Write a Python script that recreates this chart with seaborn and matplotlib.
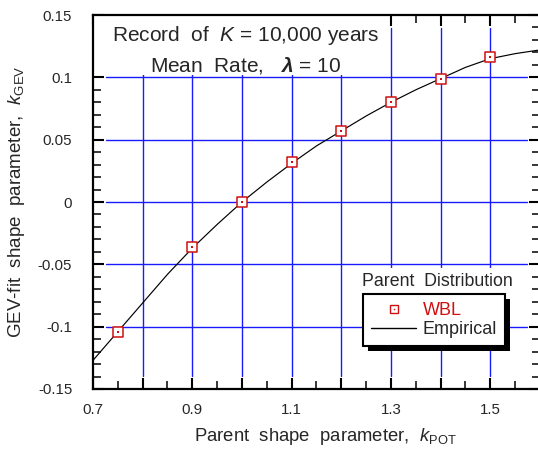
import numpy as np
import pandas as pd
import matplotlib
matplotlib.use("Agg")
import matplotlib.pyplot as plt
import seaborn as sns
from matplotlib.lines import Line2D
from matplotlib.patches import Rectangle
from matplotlib.transforms import IdentityTransform

# ---- data ----
wbl_k_pot = [0.75, 0.9, 1.0, 1.1, 1.2, 1.3, 1.4, 1.5]
wbl_k_gev = [-0.104, -0.036, 0.0, 0.032, 0.057, 0.080, 0.099, 0.116]

emp_k_pot = [0.70, 0.75, 0.80, 0.85, 0.90, 0.95, 1.00, 1.05, 1.10, 1.15,
             1.20, 1.25, 1.30, 1.35, 1.40, 1.45, 1.50, 1.55, 1.60]
emp_k_gev = [-0.127, -0.104, -0.081, -0.058, -0.037, -0.018, 0.000, 0.016,
             0.031, 0.045, 0.057, 0.069, 0.080, 0.090, 0.099, 0.108, 0.115,
             0.119, 0.122]

xtick_vals = [0.7, 0.8, 0.9, 1.0, 1.1, 1.2, 1.3, 1.4, 1.5, 1.6]
xtick_labels = ["0.7", "", "0.9", "", "1.1", "", "1.3", "", "1.5", ""]
ytick_vals = [-0.15, -0.1, -0.05, 0.0, 0.05, 0.1, 0.15]
ytick_labels = ["-0.15", "-0.1", "-0.05", "0", "0.05", "0.1", "0.15"]

wbl_df = pd.DataFrame({"k_pot": wbl_k_pot, "k_gev": wbl_k_gev})
emp_df = pd.DataFrame({"k_pot": emp_k_pot, "k_gev": emp_k_gev})

sns.set_theme(style="white")
plt.rcParams["font.family"] = ["Liberation Sans", "DejaVu Sans"]
plt.rcParams.update({
    "mathtext.fontset": "custom",
    "mathtext.rm": "Liberation Sans",
    "mathtext.it": "Liberation Sans:italic",
    "mathtext.bf": "Liberation Sans:bold",
    "mathtext.bfit": "Liberation Sans:bold:italic",
})

W, H = 538, 455
fig = plt.figure(figsize=(W / 100, H / 100), dpi=100)
L, R, T, B = 93, 540, 15, 389
ax = fig.add_axes([L / W, 1 - B / H, (R - L) / W, (B - T) / H])

xmin, xmax, ymin, ymax = 0.7, 1.6, -0.15, 0.15
ax.set_xlim(xmin, xmax)
ax.set_ylim(ymin, ymax)

# grid (inset from spines)
grid_c = "#1a1aff"
gx = 0.027
gy = 0.0105
for xv in xtick_vals[1:-1]:
    ax.plot([xv, xv], [ymin + gy, ymax - gy], color=grid_c, lw=1.0, zorder=1)
for yv in ytick_vals[1:-1]:
    ax.plot([xmin + gx, xmax - gx], [yv, yv], color=grid_c, lw=1.0, zorder=1)

# white area behind the annotation text
ax.add_patch(Rectangle((xmin, 0.1015), 1.288 - xmin, ymax - 0.1015,
                       facecolor="white", edgecolor="none", zorder=1.2))

sns.lineplot(data=emp_df, x="k_pot", y="k_gev", color="black", lw=0.85,
             estimator=None, sort=False, ax=ax, zorder=2)
sns.scatterplot(data=wbl_df, x="k_pot", y="k_gev", marker="s", s=42,
                facecolor="white", edgecolor="#d01010", linewidth=1.1,
                ax=ax, zorder=3)
sns.scatterplot(data=wbl_df, x="k_pot", y="k_gev", marker="s", s=1.2,
                color="#d01010", linewidth=0, ax=ax, zorder=4)

# ticks
ax.set_xticks(xtick_vals)
ax.set_xticklabels(xtick_labels)
ax.set_xticks(np.arange(0.7, 1.6001, 0.05), minor=True)
ax.set_yticks(ytick_vals)
ax.set_yticklabels(ytick_labels)
ax.set_yticks(np.arange(-0.15, 0.15001, 0.01), minor=True)
ax.tick_params(which="both", direction="in", top=True, right=True,
               bottom=True, left=True, color="black")
ax.tick_params(which="major", length=8, width=1.5, labelsize=10.8)
ax.tick_params(axis="x", which="major", pad=10)
ax.tick_params(axis="y", which="major", pad=15)
ax.tick_params(which="minor", length=6, width=1.1)
for s in ax.spines.values():
    s.set_linewidth(1.6)
    s.set_color("black")

ax.set_xlabel(r"Parent  shape  parameter,  $k_{\mathrm{POT}}$", fontsize=13.3,
              labelpad=8)
ax.xaxis.set_label_coords(0.519, -0.1)
ax.xaxis.label.set_va("top")
ax.set_ylabel(r"GEV-fit  shape  parameter,  $k_{\mathrm{GEV}}$", fontsize=13.5,
              labelpad=8)

# annotation
ax.text(0.342, 0.944, r"Record  of  $K$ = 10,000 years", transform=ax.transAxes,
        ha="center", va="center", fontsize=15, zorder=5)
ax.text(0.342, 0.866, r"Mean  Rate,   $\mathbfit{\lambda}$ = 10", transform=ax.transAxes,
        ha="center", va="center", fontsize=15, zorder=5)

# legend
h_wbl = (Line2D([], [], ls="none", marker="s", ms=6.2, mfc="white",
                mec="#d01010", mew=1.0),
         Line2D([], [], ls="none", marker="s", ms=1.0, mfc="#d01010",
                mec="#d01010", mew=0))
h_emp = Line2D([], [], color="black", lw=1.0)
leg = ax.legend([h_wbl, h_emp], ["WBL", "Empirical"],
                loc="upper left", bbox_to_anchor=((363 - L) / (R - L), 1 - (294 - T) / (B - T)),
                borderaxespad=0, fontsize=13, frameon=True, fancybox=False,
                shadow=False, handlelength=2.5, handletextpad=0.35,
                labelspacing=0.12, borderpad=0.45)
leg.get_frame().set_edgecolor("black")
leg.get_frame().set_linewidth(1.5)
leg.get_frame().set_facecolor("white")
leg.get_frame().set_alpha(1)
leg.get_texts()[0].set_color("#d01010")
leg.set_zorder(6)

ax.text((437 - L) / (R - L), 1 - (281 - T) / (B - T), "Parent  Distribution",
        transform=ax.transAxes, ha="center", va="center", fontsize=12.8,
        zorder=5, bbox=dict(facecolor="white", edgecolor="none", pad=3))

# black drop shadow for legend box
fig.canvas.draw()
bb = leg.get_window_extent()
ax.add_patch(Rectangle((bb.x0 + 5, bb.y0 - 5), bb.width, bb.height,
                       transform=IdentityTransform(), facecolor="black",
                       edgecolor="none", zorder=5.9, clip_on=False))

fig.savefig("out.png", dpi=100)
